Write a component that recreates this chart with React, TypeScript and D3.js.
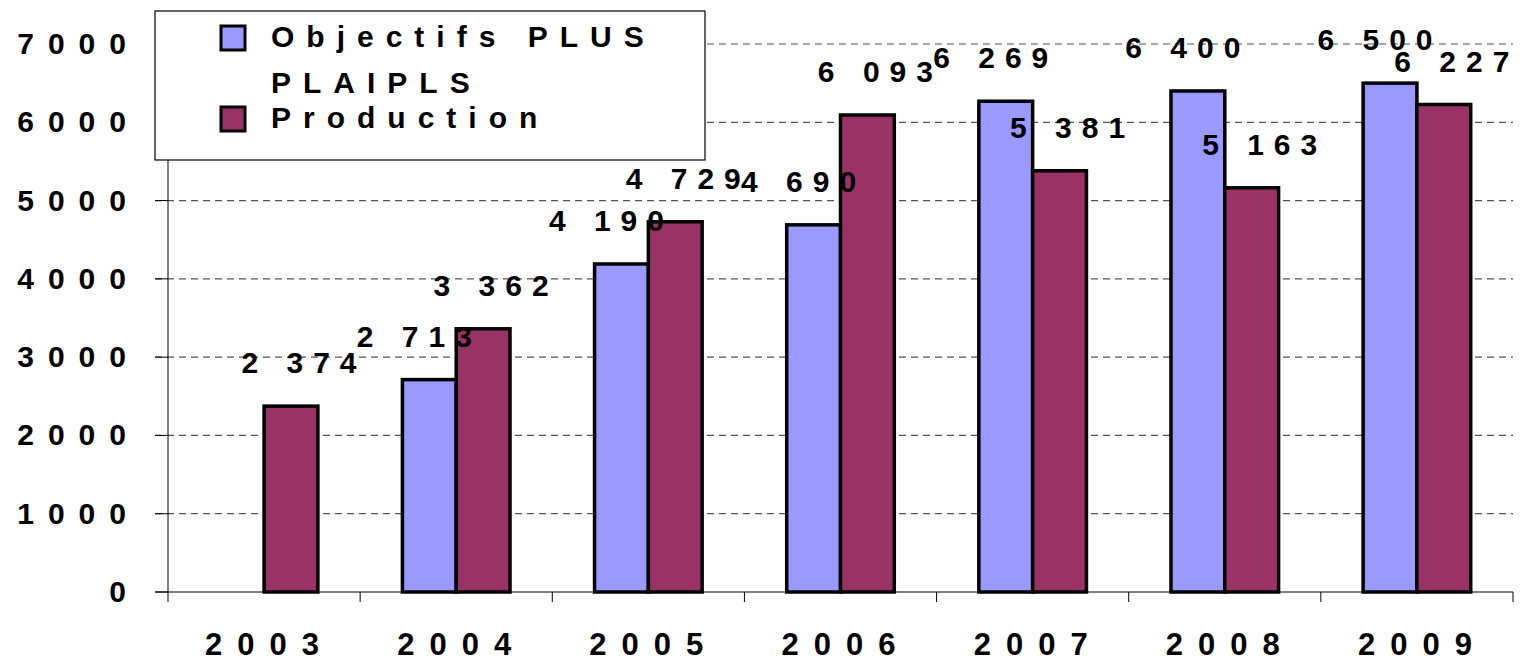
import React from 'react';
import * as d3 from 'd3';

// chart data
const years = ['2003', '2004', '2005', '2006', '2007', '2008', '2009'];
const objectifs: (number | null)[] = [null, 2713, 4190, 4690, 6269, 6400, 6500];
const production: number[] = [2374, 3362, 4729, 6093, 5381, 5163, 6227];
const yTicks = [0, 1000, 2000, 3000, 4000, 5000, 6000, 7000];
const seriesNames = ['Objectifs PLUS', 'Production'];

const W = 1540;
const H = 661;
const FONT = '"Liberation Sans", Arial, sans-serif';
const BLUE = '#9999FF';
const PLUM = '#993366';

// "6093" -> "6 093"
const fmt = (v: number) => {
  const s = String(v);
  return s.length > 3 ? s.slice(0, s.length - 3) + ' ' + s.slice(-3) : s;
};

export default function App() {
  const x = d3.scaleBand<string>().domain(years).range([168, 1513]).padding(0);
  const y = d3.scaleLinear().domain([0, 7000]).range([592, 44]);
  const bw = x.bandwidth() * 0.28;
  const x1 = d3
    .scaleBand<string>()
    .domain(seriesNames)
    .range([x.bandwidth() / 2 - bw, x.bandwidth() / 2 + bw]);

  const bars: { key: string; xPos: number; v: number; fill: string; shift: number }[] = [];
  years.forEach((yr, i) => {
    const o = objectifs[i];
    if (o != null) bars.push({ key: 'o' + yr, xPos: (x(yr) || 0) + (x1(seriesNames[0]) || 0), v: o, fill: BLUE, shift: -15 });
    bars.push({ key: 'p' + yr, xPos: (x(yr) || 0) + (x1(seriesNames[1]) || 0), v: production[i], fill: PLUM, shift: 8 });
  });

  const labelLs = 10;
  const axisLs = 15;

  return (
    <svg width={W} height={H} style={{ position: 'absolute', left: 0, top: 0, background: '#fff' }} fontFamily={FONT} fontWeight="bold">
      {/* gridlines */}
      {yTicks.filter(t => t > 0).map(t => (
        <line key={'g' + t} x1={155} x2={1513} y1={y(t)} y2={y(t)} stroke="#555" strokeWidth={1.2} strokeDasharray="7 5" />
      ))}
      {/* y ticks */}
      {yTicks.map(t => (
        <line key={'yt' + t} x1={155} x2={168} y1={y(t)} y2={y(t)} stroke="#000" strokeWidth={1} />
      ))}
      {/* axes */}
      <line x1={168} x2={168} y1={y(7000)} y2={y(0)} stroke="#000" strokeWidth={1} />
      <line x1={155} x2={1513} y1={y(0)} y2={y(0)} stroke="#000" strokeWidth={1.2} />
      {years.concat(['end']).map((yr, i) => {
        const xp = 168 + i * x.bandwidth();
        return <line key={'xt' + i} x1={xp} x2={xp} y1={y(0)} y2={y(0) + 10} stroke="#000" strokeWidth={1} />;
      })}

      {/* bars */}
      {bars.map(b => (
        <rect key={b.key} x={b.xPos} y={y(b.v)} width={x1.bandwidth()} height={y(0) - y(b.v)} fill={b.fill} stroke="#000" strokeWidth={3.5} />
      ))}

      {/* value labels */}
      {bars.map(b => (
        <text
          key={'l' + b.key}
          x={b.xPos + x1.bandwidth() / 2 + labelLs / 2 + b.shift}
          y={y(b.v) - 33}
          textAnchor="middle"
          fontSize={30}
          letterSpacing={labelLs}
          fill="#000"
        >
          {fmt(b.v)}
        </text>
      ))}

      {/* y tick labels */}
      {yTicks.map(t => (
        <text key={'yl' + t} x={125 + axisLs} y={y(t) + 10} textAnchor="end" fontSize={30} letterSpacing={axisLs - 1} fill="#000">
          {t}
        </text>
      ))}

      {/* x labels */}
      {years.map(yr => (
        <text
          key={'xl' + yr}
          x={(x(yr) || 0) + x.bandwidth() / 2 - 2 + axisLs / 2}
          y={655}
          textAnchor="middle"
          fontSize={31}
          letterSpacing={axisLs}
          fill="#000"
        >
          {yr}
        </text>
      ))}

      {/* legend */}
      <rect x={155} y={11} width={550} height={149} fill="#fff" stroke="#000" strokeWidth={1.2} />
      <rect x={221} y={26} width={24} height={24} fill={BLUE} stroke="#000" strokeWidth={3} />
      <rect x={221} y={107} width={24} height={24} fill={PLUM} stroke="#000" strokeWidth={3} />
      <text x={271} y={47} fontSize={30} letterSpacing={12} fill="#000">{seriesNames[0]}</text>
      <text x={271} y={93} fontSize={30} letterSpacing={12} fill="#000">PLAIPLS</text>
      <text x={271} y={128} fontSize={30} letterSpacing={12} fill="#000">{seriesNames[1]}</text>
    </svg>
  );
}
